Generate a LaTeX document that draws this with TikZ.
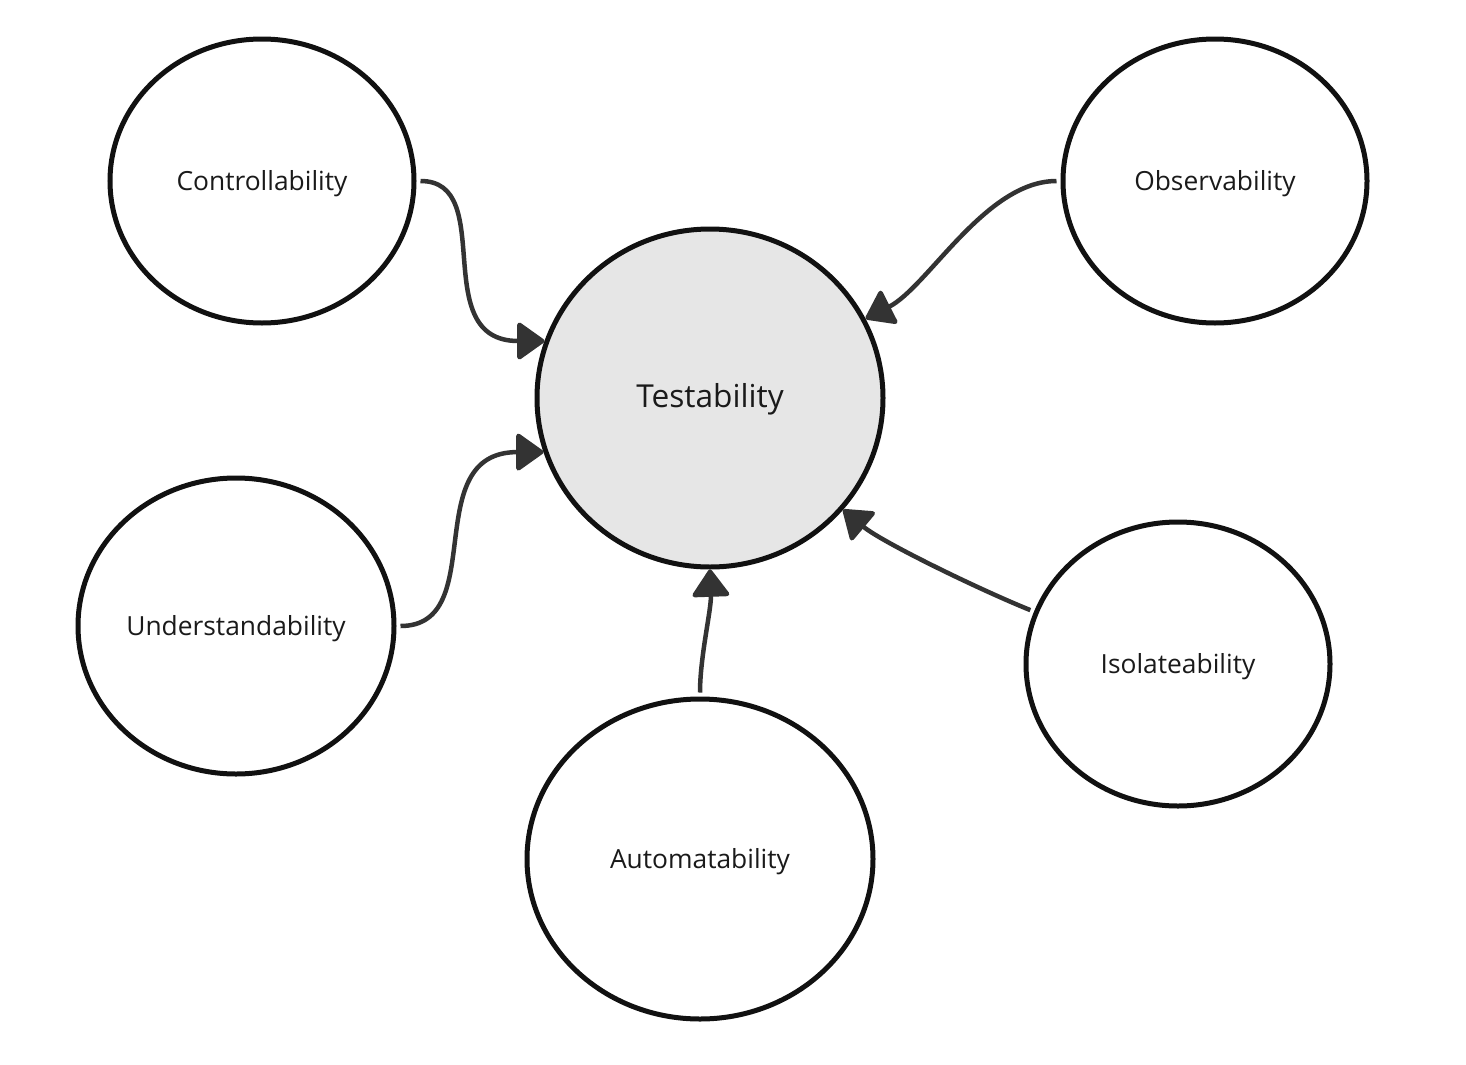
\documentclass[tikz,border=0pt]{standalone}
\usepackage{fontspec}
\setmainfont{Open Sans}
\usetikzlibrary{arrows.meta, shapes.geometric, positioning}
\definecolor{rimcol}{HTML}{111111}
\definecolor{arrcol}{HTML}{333333}
\definecolor{corefill}{HTML}{E6E6E6}
\definecolor{txtcol}{HTML}{1A1A1A}
\begin{document}
\begin{tikzpicture}[
  on grid,
  bubble/.style = {
    ellipse, draw=rimcol, line width=0.1cm, inner sep=0pt,
    minimum width=6.08cm, minimum height=5.68cm,
    text height=1.36em, text depth=0.24em,
    text=txtcol, font=\fontsize{15}{18}\selectfont
  },
  core bubble/.style = {bubble, fill=corefill,
    minimum width=6.92cm, minimum height=6.76cm,
    font=\fontsize{18}{22}\selectfont},
  arr/.style = {-{Triangle[round, length=0.58cm, width=0.8cm]},
    draw=arrcol, line width=0.09cm, shorten <=0.08cm},
]
\useasboundingbox (0,0) rectangle (29.32,-21.3);

\node[core bubble] (test) at (14.2,-7.96) {Testability};

% outer qualities
\node[bubble] (ctrl) [above left=4.34cm and 8.96cm of test] {Controllability};
\node[bubble] (obs)  [above right=4.34cm and 10.1cm of test] {Observability};
\node[bubble, minimum width=6.32cm, minimum height=5.92cm]
  (under) [below left=4.56cm and 9.48cm of test] {Understandability};
\node[bubble, minimum width=6.92cm, minimum height=6.4cm]
  (auto) [below=9.22cm of test, xshift=-0.2cm] {Automatability};
\node[bubble] (iso)  [below right=5.32cm and 9.36cm of test] {Isolateability};

% arrows
\draw[arr] (ctrl.east)  to[out=0, in=180, out distance=1.64cm, in distance=2.36cm] (test.161);
\draw[arr] (under.east) to[out=0, in=180, out distance=1.88cm, in distance=2.52cm] (test.198);
\draw[arr] (obs.west)   to[out=180, in=27, out distance=1.5cm, in distance=1.4cm] (test.27);
\draw[arr] (iso.160)    to[out=158, in=-40, out distance=1.2cm, in distance=1cm] (test.-40);
\draw[arr] (auto.north) to[out=90, in=-88, out distance=0.8cm, in distance=0.8cm] (test.south);

\end{tikzpicture}
\end{document}
